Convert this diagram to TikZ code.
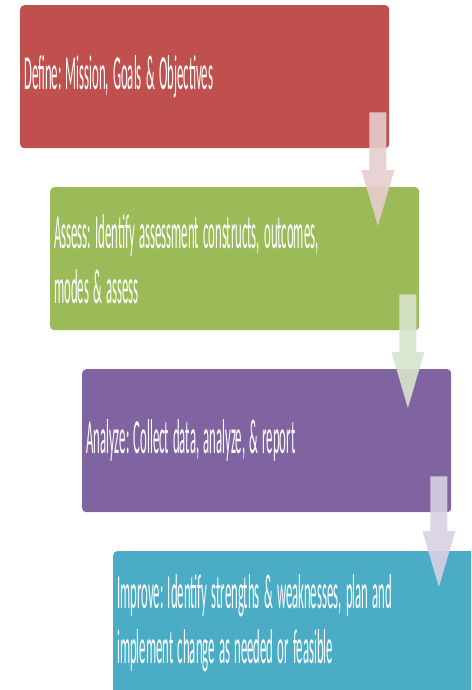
\documentclass[tikz,border=0pt]{standalone}
\usepackage{fontspec}
\usepackage{graphicx}
\setmainfont{Carlito}
\usetikzlibrary{calc}
\definecolor{cRed}{HTML}{C0504D}
\definecolor{cGreen}{HTML}{9BBB59}
\definecolor{cPurple}{HTML}{8064A2}
\definecolor{cTeal}{HTML}{4BACC6}
\definecolor{aRed}{HTML}{E6CDCE}
\definecolor{aGreen}{HTML}{D8E4CC}
\definecolor{aPurple}{HTML}{D8D0E3}
\newcommand\boxfont{\fontsize{49}{55}\selectfont\frenchspacing}
\newcommand\sq[1]{\scalebox{0.26}[1]{#1}}
\newcommand\flowarrow[3]{%
  \fill[#3,opacity=0.9] ($(#1)+(-8.5,0)$) -- ($(#1)+(8.5,0)$) -- ($(#2)+(8.5,56)$) -- ($(#2)+(16.5,56)$) -- (#2) -- ($(#2)+(-16.5,56)$) -- ($(#2)+(-8.5,56)$) -- cycle;}
\begin{document}
\begin{tikzpicture}[x=1pt,y=1pt,
  stepbox/.style={anchor=north west, rounded corners=4pt, minimum height=143pt,
    text width=361pt, inner xsep=4pt, inner ysep=0pt, align=left, text=white,
    font=\boxfont}]
\useasboundingbox (0,0) rectangle (471,-690);
\clip (0,0) rectangle (471,-690);
\node[stepbox, fill=cRed] (a) at (20,-5) {\sq{Define: Mission, Goals \& Objectives}};
\node[stepbox, fill=cGreen] (b) at (50,-187) {\sq{Assess: Identify assessment constructs, outcomes,}\\\sq{modes \& assess}};
\node[stepbox, fill=cPurple] (c) at (82,-369) {\sq{Analyze: Collect data, analyze, \& report}};
\node[stepbox, fill=cTeal] (d) at (113,-551) {\sq{Improve: Identify strengths \& weaknesses, plan and}\\\sq{implement change as needed or feasible}};
\coordinate (t1) at ($(a.south east)+(-11.5,36)$);
\coordinate (p1) at ($(t1|-b.north)+(0,-39)$);
\coordinate (t2) at ($(b.south east)+(-11.5,36)$);
\coordinate (p2) at ($(t2|-c.north)+(0,-39)$);
\coordinate (t3) at ($(c.south east)+(-12.5,36)$);
\coordinate (p3) at ($(t3|-d.north)+(0,-36)$);
\flowarrow{t1}{p1}{aRed}
\flowarrow{t2}{p2}{aGreen}
\flowarrow{t3}{p3}{aPurple}
\end{tikzpicture}
\end{document}
